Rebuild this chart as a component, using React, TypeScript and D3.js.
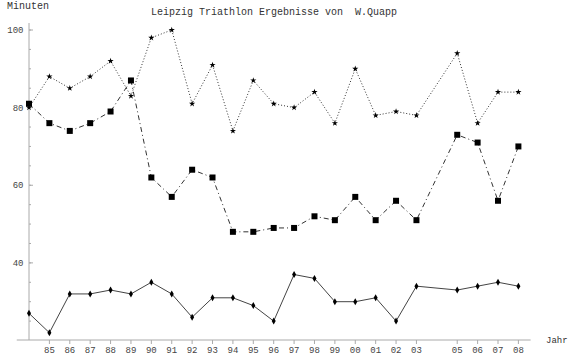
import React from "react";
import * as d3 from "d3";

const years = [1984, 1985, 1986, 1987, 1988, 1989, 1990, 1991, 1992, 1993, 1994, 1995, 1996, 1997, 1998, 1999, 2000, 2001, 2002, 2003, 2005, 2006, 2007, 2008];
const starSeries = [80, 88, 85, 88, 92, 83, 98, 100, 81, 91, 74, 87, 81, 80, 84, 76, 90, 78, 79, 78, 94, 76, 84, 84];
const squareSeries = [81, 76, 74, 76, 79, 87, 62, 57, 64, 62, 48, 48, 49, 49, 52, 51, 57, 51, 56, 51, 73, 71, 56, 70];
const diamondSeries = [27, 22, 32, 32, 33, 32, 35, 32, 26, 31, 31, 29, 25, 37, 36, 30, 30, 31, 25, 34, 33, 34, 35, 34];
const yMajorTicks = [40, 60, 80, 100];
const yMinorTicks = d3.range(25, 101, 5);
const xTickYears = years.filter((y) => y !== 1984);
const title = "Leipzig Triathlon Ergebnisse von  W.Quapp";
const yLabel = "Minuten";
const xLabel = "Jahr";

const W = 576;
const H = 356;

export default function App() {
  const x = d3.scaleLinear().domain([1984, 2008]).range([29, 518.4]);
  const y = d3.scaleLinear().domain([20, 100]).range([340.5, 30]);
  const axisY = 340;
  const font = "'Liberation Mono', 'DejaVu Sans Mono', monospace";

  const line = (vals: number[]) =>
    d3
      .line<number>()
      .x((_, i) => x(years[i]))
      .y((v) => y(v))(vals) as string;

  const sym = (type: d3.SymbolType, size: number) => d3.symbol().type(type).size(size)() as string;

  return (
    <svg width={W} height={H} style={{ position: "absolute", left: 0, top: 0, background: "#fff" }}>
      {/* axes */}
      <line x1={x(1984)} x2={x(1984)} y1={y(101.8)} y2={axisY} stroke="#aaa" strokeWidth={1} />
      <line x1={x(1983.4)} x2={x(2008.6)} y1={axisY} y2={axisY} stroke="#aaa" strokeWidth={1} />
      {yMinorTicks.map((t) => (
        <line key={"mi" + t} x1={x(1984)} x2={x(1984) + 2} y1={y(t)} y2={y(t)} stroke="#aaa" />
      ))}
      {yMajorTicks.map((t) => (
        <g key={"ma" + t}>
          <line x1={x(1984)} x2={x(1984) + 4} y1={y(t)} y2={y(t)} stroke="#aaa" />
          <text x={23.5} y={y(t) + 3} textAnchor="end" fontFamily={font} fontSize={9} fill="#444">
            {t}
          </text>
        </g>
      ))}
      {xTickYears.map((yr) => (
        <g key={"xt" + yr}>
          <line x1={x(yr)} x2={x(yr)} y1={axisY} y2={axisY + 4} stroke="#aaa" />
          <text x={x(yr)} y={353} textAnchor="middle" fontFamily={font} fontSize={9} fill="#444">
            {String(yr % 100).padStart(2, "0")}
          </text>
        </g>
      ))}
      <text x={7} y={9} fontFamily={font} fontSize={10} fill="#333">
        {yLabel}
      </text>
      <text x={546} y={343} fontFamily={font} fontSize={9} fill="#333">
        {xLabel}
      </text>
      <text x={274} y={15} textAnchor="middle" fontFamily={font} fontSize={10} fill="#333" style={{ whiteSpace: "pre" }}>
        {title}
      </text>

      {/* series */}
      <path d={line(starSeries)} fill="none" stroke="#333" strokeWidth={1} strokeDasharray="1,2" />
      <path d={line(squareSeries)} fill="none" stroke="#333" strokeWidth={1} strokeDasharray="5,3,1,3" />
      <path d={line(diamondSeries)} fill="none" stroke="#444" strokeWidth={1} />

      {starSeries.map((v, i) => (
        <path key={"s" + i} d={sym(d3.symbolStar, 12)} transform={`translate(${x(years[i])},${y(v)})`} fill="#000" />
      ))}
      {squareSeries.map((v, i) => (
        <path key={"q" + i} d={sym(d3.symbolSquare, 36)} transform={`translate(${x(years[i])},${y(v)})`} fill="#000" />
      ))}
      {diamondSeries.map((v, i) => (
        <path key={"d" + i} d={sym(d3.symbolDiamond, 14)} transform={`translate(${x(years[i])},${y(v)})`} fill="#000" />
      ))}
    </svg>
  );
}
